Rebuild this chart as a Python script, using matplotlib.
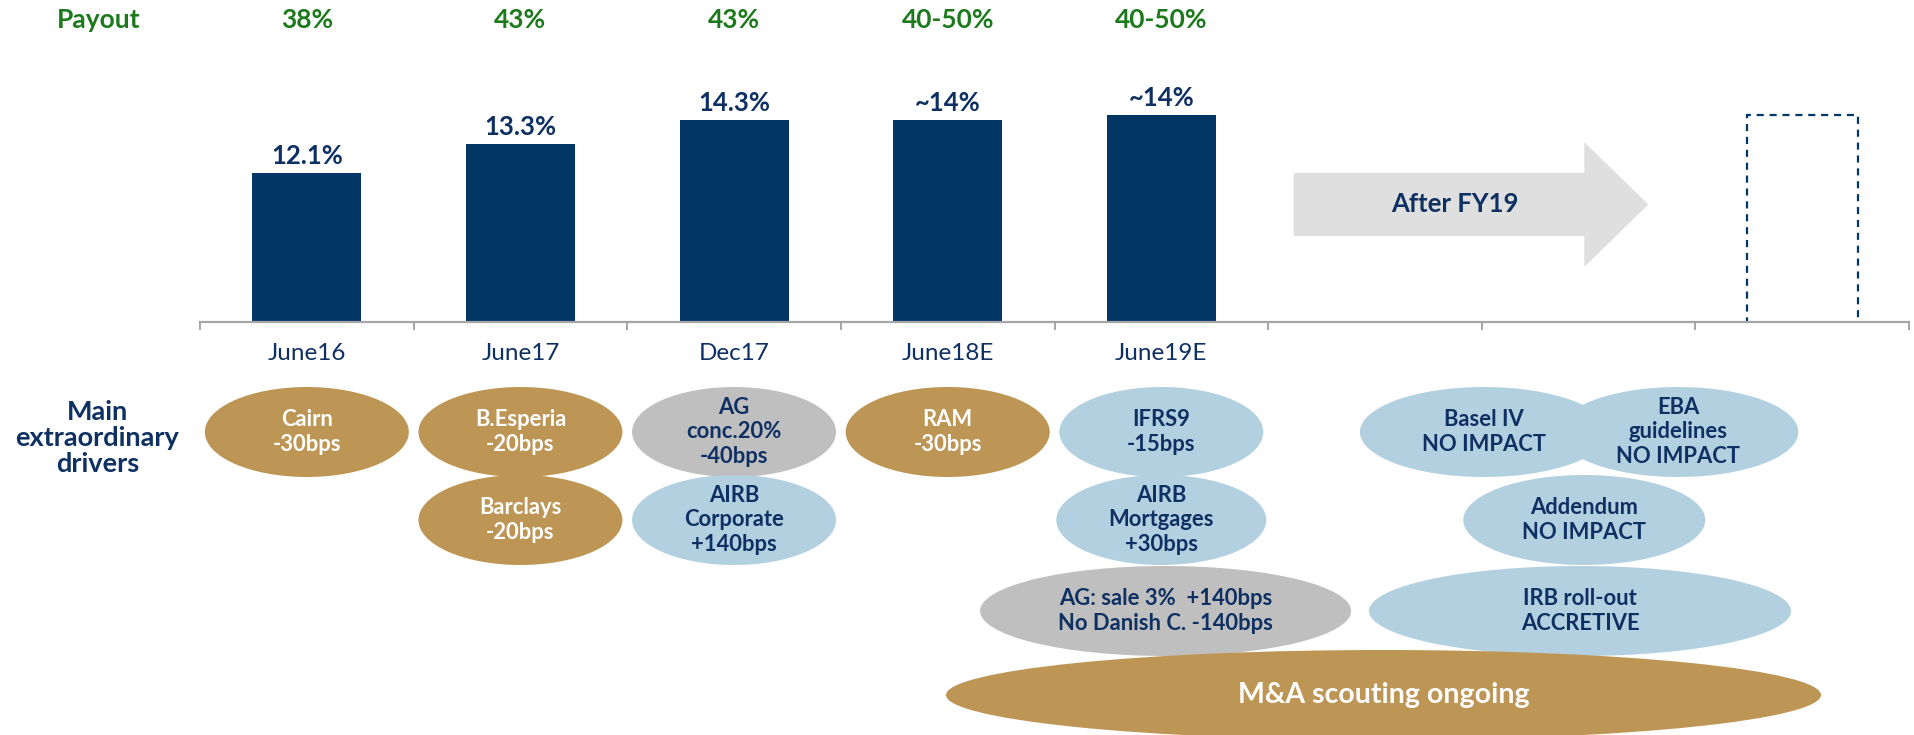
"""
CET1 ratio path with payout and main extraordinary drivers
"""

import numpy as np
import matplotlib as mpl
mpl.use("Agg")
import matplotlib.pyplot as plt
from matplotlib.patches import Ellipse, Polygon
from matplotlib.transforms import blended_transform_factory

plt.rcParams["font.family"] = ["Lato", "DejaVu Sans"]

# --- data ---
periods = ["June16", "June17", "Dec17", "June18E", "June19E"]
cet1 = [12.1, 13.3, 14.3, 14.3, 14.5]
cet1_labels = ["12.1%", "13.3%", "14.3%", "~14%", "~14%"]
payout = ["38%", "43%", "43%", "40-50%", "40-50%"]
future_cet1 = 14.5          # dashed placeholder bar after FY19
n_slots = 8

driver_texts = [
    "Cairn\n-30bps", "B.Esperia\n-20bps", "Barclays\n-20bps",
    "AG\nconc.20%\n-40bps", "AIRB\nCorporate\n+140bps", "RAM\n-30bps",
    "IFRS9\n-15bps", "AIRB\nMortgages\n+30bps",
    "AG: sale 3%  +140bps\nNo Danish C. -140bps",
    "Basel IV\nNO IMPACT", "EBA\nguidelines\nNO IMPACT", "Addendum\nNO IMPACT",
    "IRB roll-out\nACCRETIVE", "M&A scouting ongoing",
]
driver_kind = ["neg", "neg", "neg", "mixed", "pos", "neg", "pos", "pos",
               "mixed", "pos", "pos", "pos", "pos", "neg"]

# layout of the bubbles: slot position, row, width (px)
driver_x = [0, 1, 1, 2, 2, 3, 4, 4, 4.02, 5.51, 6.42, 5.98, 5.96, 5.04]
driver_row = [0, 0, 1, 0, 1, 0, 0, 1, 2, 0, 0, 1, 2, 3]
driver_w = [204, 204, 204, 204, 204, 204, 204, 210, 371, 248, 240, 242, 422, 875]
row_y = [432, 520, 611, 695]

NAVY = "#033565"
TXT = "#0E3062"
GREEN = "#1C7A1C"
GOLD = "#BD9555"
BLUE = "#B3D0E0"
GREY = "#BFBFBF"
AXIS = "#A6A6A6"
face = {"neg": GOLD, "pos": BLUE, "mixed": GREY}
ink = {"neg": "white", "pos": TXT, "mixed": TXT}

W, H = 1914, 735
fig = plt.figure(figsize=(W / 100, H / 100), dpi=100)
base = 322                       # axis line, px from top
left, slot = 200, (1909 - 200) / n_slots
x0 = -0.5 - left / slot
x1 = x0 + W / slot

# bars
ax = fig.add_axes([0, 1 - base / H, 1, base / H])
ax.set_xlim(x0, x1)
ymin, ppu = 5.9, 24.1
ax.set_ylim(ymin, ymin + base / ppu)

xs = np.arange(len(periods))
ax.bar(xs, cet1, width=0.51, color=NAVY, zorder=2)
ax.bar(7, future_cet1, width=0.52, fill=False, edgecolor=NAVY,
       linestyle=(0, (3.2, 2.6)), linewidth=1.6, zorder=1)

for x, v, lab in zip(xs, cet1, cet1_labels):
    ax.annotate(lab, (x, v), xytext=(0, 6), textcoords="offset points",
                ha="center", va="baseline", fontsize=18.5, fontweight="bold", color=TXT)

trans = blended_transform_factory(ax.transData, fig.transFigure)
ax.text(-0.974, 1 - 20 / H, "Payout", transform=trans, ha="center", va="center",
        fontsize=19, fontweight="bold", color=GREEN)
for x, p in zip(xs, payout):
    ax.text(x, 1 - 20 / H, p, transform=trans, ha="center", va="center",
            fontsize=19, fontweight="bold", color=GREEN)

for s in ["top", "right", "left"]:
    ax.spines[s].set_visible(False)
ax.spines["bottom"].set_bounds(-0.5, n_slots - 0.5)
ax.spines["bottom"].set_color(AXIS)
ax.spines["bottom"].set_linewidth(1.6)
ax.spines["bottom"].set_zorder(3)
ax.set_yticks([])
ax.set_xticks(xs, periods)
ax.set_xticks(np.arange(-0.5, n_slots), minor=True)
ax.tick_params(axis="x", which="major", length=0, pad=15, labelsize=17.5, labelcolor=TXT)
ax.tick_params(axis="x", which="minor", length=6, width=1.4, color=AXIS)

# "After FY19" arrow
arr = blended_transform_factory(ax.transData, ax.transAxes)
ax.add_patch(Polygon([(4.62, 0.463), (5.98, 0.463), (5.98, 0.559), (6.28, 0.365),
                      (5.98, 0.171), (5.98, 0.267), (4.62, 0.267)],
                     closed=True, facecolor="#DFDFDF", edgecolor="none",
                     transform=arr, zorder=1))
ax.text(5.375, 0.365, "After FY19", transform=arr, ha="center", va="center",
        fontsize=18.5, fontweight="bold", color=TXT)

# drivers
ax2 = fig.add_axes([0, 0, 1, 1 - base / H])
ax2.set_xlim(x0, x1)
ax2.set_ylim(H, base)
ax2.axis("off")

ax2.text(-0.98, 438, "Main\nextraordinary\ndrivers", ha="center", va="center",
         fontsize=19.5, fontweight="bold", color=TXT, linespacing=1.12)

for t, k, x, r, w in zip(driver_texts, driver_kind, driver_x, driver_row, driver_w):
    y = row_y[r]
    ax2.add_patch(Ellipse((x, y), width=w / slot, height=90,
                          facecolor=face[k], edgecolor="none"))
    size = 20.5 if t.startswith("M&A") else 15.8
    ax2.text(x, y, t, ha="center", va="center", fontsize=size,
             fontweight="bold", color=ink[k], linespacing=1.18)

fig.savefig("out.png", dpi=100)
